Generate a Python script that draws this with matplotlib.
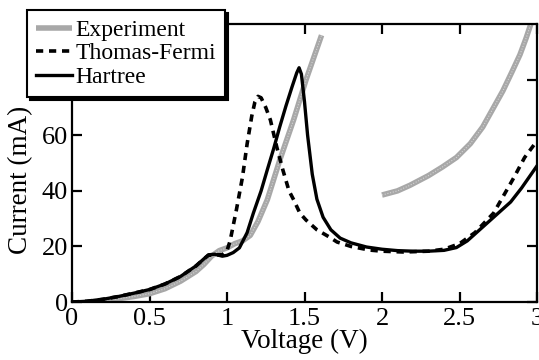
import numpy as np
import matplotlib
matplotlib.use("Agg")
import matplotlib.pyplot as plt

plt.rcParams['font.family'] = ['Liberation Serif', 'DejaVu Serif']

# Hartree calculation
hartree_v = [0, 0.1, 0.2, 0.3, 0.4, 0.5, 0.6, 0.7, 0.8, 0.85, 0.88, 0.92, 0.97, 1.0,
             1.04, 1.08, 1.13, 1.17, 1.22, 1.26, 1.30, 1.34, 1.38, 1.42, 1.45, 1.465,
             1.48, 1.50, 1.52, 1.55, 1.58, 1.62, 1.67, 1.73, 1.80, 1.9, 2.0, 2.1, 2.2,
             2.3, 2.4, 2.48, 2.55, 2.65, 2.75, 2.83, 2.9, 3.0]
hartree_i = [0, 0.3, 1, 2, 3.2, 4.5, 6.5, 9.2, 13, 15.5, 17, 17.2, 16.5, 16.8,
             17.8, 19.5, 25, 32, 40, 47.6, 55, 63, 70.5, 77.5, 82.5, 84.3,
             82, 72, 60, 46, 37, 30.5, 26, 23, 21.3, 19.8, 19, 18.5, 18.3,
             18.3, 18.6, 19.6, 22, 27, 32, 36, 41, 49]

# Thomas-Fermi calculation
tf_v = [0, 0.1, 0.2, 0.3, 0.4, 0.5, 0.6, 0.7, 0.8, 0.85, 0.88, 0.92, 0.97, 1.0,
        1.02, 1.06, 1.10, 1.13, 1.16, 1.18, 1.20, 1.22, 1.25, 1.28, 1.32, 1.36,
        1.40, 1.43, 1.47, 1.51, 1.58, 1.66, 1.71, 1.8, 1.92, 2.0, 2.14, 2.3, 2.4,
        2.5, 2.6, 2.72, 2.85, 2.92, 3.0]
tf_i = [0, 0.3, 1, 2, 3.2, 4.5, 6.5, 9.2, 13, 15.5, 16.8, 17, 17, 18.5,
        22, 33, 45, 57, 67, 72, 74, 73.5, 70, 65.5, 56, 47.6,
        40, 36.8, 32, 29.5, 26, 23.4, 21.6, 20, 18.7, 18.3, 18, 18.3, 19,
        21, 25, 32, 44.7, 52, 58]

# Experiment (two measured branches)
exp1_v = [0.1, 0.2, 0.3, 0.4, 0.5, 0.6, 0.7, 0.8, 0.85, 0.9, 0.95, 1.0, 1.05, 1.1,
          1.15, 1.2, 1.26, 1.34, 1.43, 1.51, 1.56, 1.61]
exp1_i = [0, 0.5, 1.2, 2, 3, 4.8, 7.5, 11, 13.5, 16.5, 18.5, 19.5, 21, 22,
          24, 29, 36.8, 51, 65.6, 80, 88, 96]
exp2_v = [2.0, 2.1, 2.18, 2.3, 2.39, 2.48, 2.57, 2.65, 2.72, 2.78, 2.84, 2.89, 2.93, 2.96]
exp2_i = [38.5, 40, 42, 45.5, 48.6, 52, 57, 63, 70, 76, 83, 89, 95, 100]

xticks = [0, 0.5, 1, 1.5, 2, 2.5, 3]
xtick_labels = ['0', '0.5', '1', '1.5', '2', '2.5', '3']
yticks = [0, 20, 40, 60, 80]

fig = plt.figure(figsize=(5.39, 3.6), dpi=100)
ax = fig.add_axes([0.1336, 0.161, 0.8627, 0.772])

gray = '#a8a8a8'
ax.plot(exp1_v, exp1_i, color=gray, lw=4, solid_capstyle='butt', label='Experiment')
ax.plot(exp1_v, exp1_i, color='white', lw=0.8, ls=(0, (1, 1.5)), alpha=0.5)
ax.plot(exp2_v, exp2_i, color=gray, lw=4, solid_capstyle='butt')
ax.plot(exp2_v, exp2_i, color='white', lw=0.8, ls=(0, (1, 1.5)), alpha=0.5)
ax.plot(tf_v, tf_i, color='black', lw=2.6, ls=(0, (2, 1.6)), label='Thomas-Fermi')
ax.plot(hartree_v, hartree_i, color='black', lw=2.4, label='Hartree')

ax.set_xlim(0, 3)
ax.set_ylim(0, 100)
ax.set_xticks(xticks)
ax.set_xticklabels(xtick_labels)
ax.set_yticks(yticks)
ax.tick_params(direction='in', length=7, width=1.6, labelsize=19,
               top=True, right=True)
ax.tick_params(axis='x', pad=4.5)
ax.tick_params(axis='y', pad=3)
for s in ax.spines.values():
    s.set_linewidth(1.6)

ax.set_xlabel('Voltage (V)', fontsize=19.5, labelpad=-1)
ax.set_ylabel('Current (mA)', fontsize=19.5)
ax.yaxis.set_label_coords(-0.084, 0.44)

leg = ax.legend(loc='upper left', bbox_to_anchor=(0.05, 0.972),
                bbox_transform=fig.transFigure, fontsize=17, frameon=True,
                fancybox=False, shadow={'color': 'black', 'alpha': 1},
                borderaxespad=0, handlelength=1.5, handletextpad=0.15,
                labelspacing=0.08, borderpad=0.4)
leg.get_frame().set_edgecolor('black')
leg.get_frame().set_linewidth(1.5)
leg.set_zorder(10)

fig.savefig('out.png', dpi=100)
